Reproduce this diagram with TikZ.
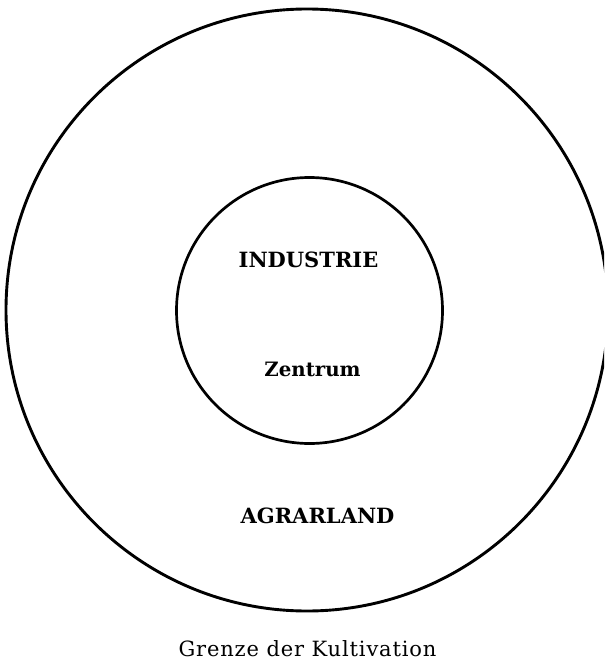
\documentclass[tikz,border=0pt]{standalone}
\usepackage{fontspec}
\setmainfont{DejaVu Serif}
\begin{document}
\begin{tikzpicture}[x=1pt,y=-1pt,
  ring/.style={draw=black, circle, inner sep=0pt, outer sep=0pt, line width=2.9pt},
  lab/.style={font=\fontsize{21}{24}\selectfont\bfseries, inner sep=0pt, anchor=base},
  captiontext/.style={font=\fontsize{21}{24}\selectfont\addfontfeature{LetterSpace=4}, inner sep=0pt, anchor=base}]
\useasboundingbox (0,0) rectangle (604,660);
\begin{scope}
\clip (0,0) rectangle (604,660);
\node[ring, minimum size=602pt] (outer) at (307,310) {};
\node[ring, minimum size=266pt, line width=2.7pt] (inner) at (309.5,310.5) {};
\end{scope}
\node[lab] (industrie) at (308.5,267) {INDUSTRIE};
\node[lab, font=\fontsize{19.8}{24}\selectfont\bfseries] (zentrum) at (312.5,376) {Zentrum};
\node[lab] (agrar) at (317.5,523) {AGRARLAND};
\node[captiontext] (grenze) at (307.5,656) {Grenze der Kultivation};
\end{tikzpicture}
\end{document}
